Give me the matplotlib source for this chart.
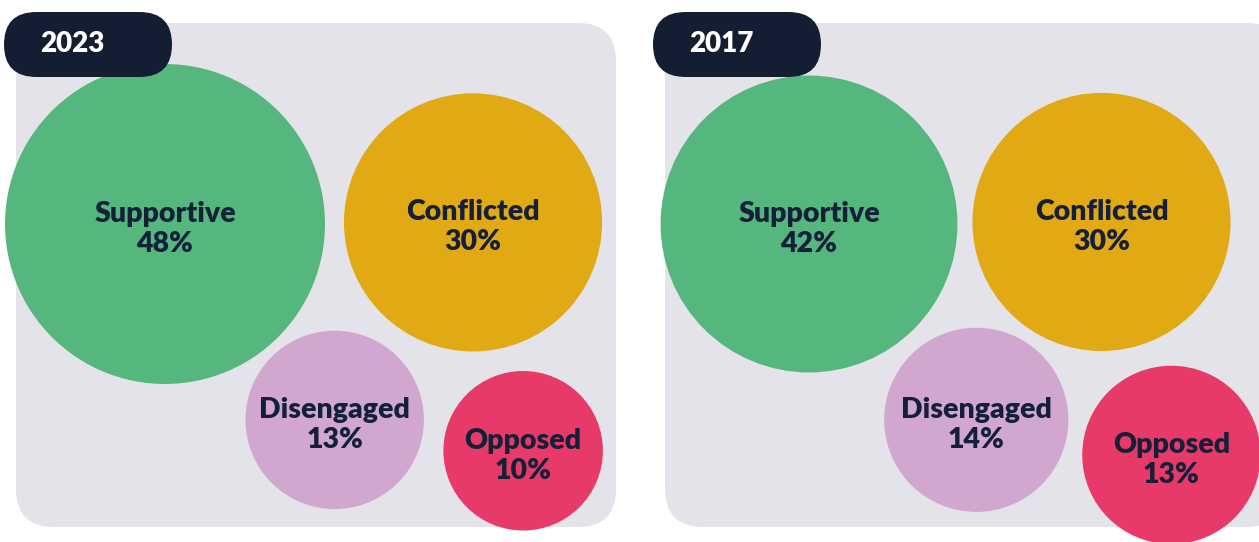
import numpy as np
import matplotlib
matplotlib.use("Agg")
import matplotlib.pyplot as plt
import matplotlib.patches as pat

# data
years = ["2023", "2017"]
groups = ["Supportive", "Conflicted", "Disengaged", "Opposed"]
share_2023 = [48, 30, 13, 10]
share_2017 = [42, 30, 14, 13]

colours = ["#55B67E", "#E1A913", "#D2A7CF", "#E73A68"]
BG = "#E4E3E9"
NAVY = "#131E33"
INK = "#14203A"
FONT = ["Lato", "DejaVu Sans"]

# layout (pixels, y down): panel box, first bubble centre, then
# each other bubble hangs off an earlier one at (angle, gap)
panels = {
    "2023": {"box": (16, 23, 600, 504), "tab": (4, 12),
             "origin": (165, 224), "shrink": 0,
             "links": [(0, -0.3, 19), (0, 49.1, 10), (2, 9.3, 22)]},
    "2017": {"box": (665, 23, 620, 504), "tab": (653, 12),
             "origin": (809, 224), "shrink": 2,
             "links": [(0, -0.4, 15), (0, 49.5, 17), (2, 10.2, 17)]},
}


def radius(v):
    # bubble size scale
    return 12.4 + 21.3 * np.sqrt(v)


def place(centres, radii, r_new, link):
    i, ang, gap = link
    d = radii[i] + r_new + gap
    a = np.radians(ang)
    return centres[i][0] + d * np.cos(a), centres[i][1] + d * np.sin(a)


def draw_panel(ax, year, values):
    lay = panels[year]
    x0, y0, w, h = lay["box"]
    ax.add_patch(pat.FancyBboxPatch((x0, y0), w, h,
                                    boxstyle="round,pad=0,rounding_size=38",
                                    fc=BG, ec="none", zorder=1))
    radii = [radius(v) for v in values]
    radii[0] -= lay["shrink"]
    centres = [lay["origin"]]
    for k in range(1, len(values)):
        centres.append(place(centres, radii, radii[k], lay["links"][k - 1]))
    for c, r, v, name, col in zip(centres, radii, values, groups, colours):
        ax.add_patch(pat.Circle(c, r, fc=col, ec="none", zorder=2))
        ax.text(c[0], c[1] + 5, f"{name}\n{v}%", ha="center", va="center",
                fontsize=20.5, fontweight="heavy", color=INK, family=FONT,
                linespacing=1.2, zorder=3)
    tx, ty = lay["tab"]
    ax.add_patch(pat.FancyBboxPatch((tx, ty), 168, 65,
                                    boxstyle="round,pad=0,rounding_size=32.5",
                                    fc=NAVY, ec="none", zorder=4))
    ax.text(tx + 68, ty + 32, year, ha="center", va="center", fontsize=20,
            fontweight="heavy", color="white", family=FONT, zorder=5)


fig = plt.figure(figsize=(12.59, 5.42), dpi=100)
ax = fig.add_axes([0, 0, 1, 1])
ax.set_xlim(0, 1259)
ax.set_ylim(542, 0)
ax.axis("off")

draw_panel(ax, years[0], share_2023)
draw_panel(ax, years[1], share_2017)

fig.savefig("out.png", dpi=100)
